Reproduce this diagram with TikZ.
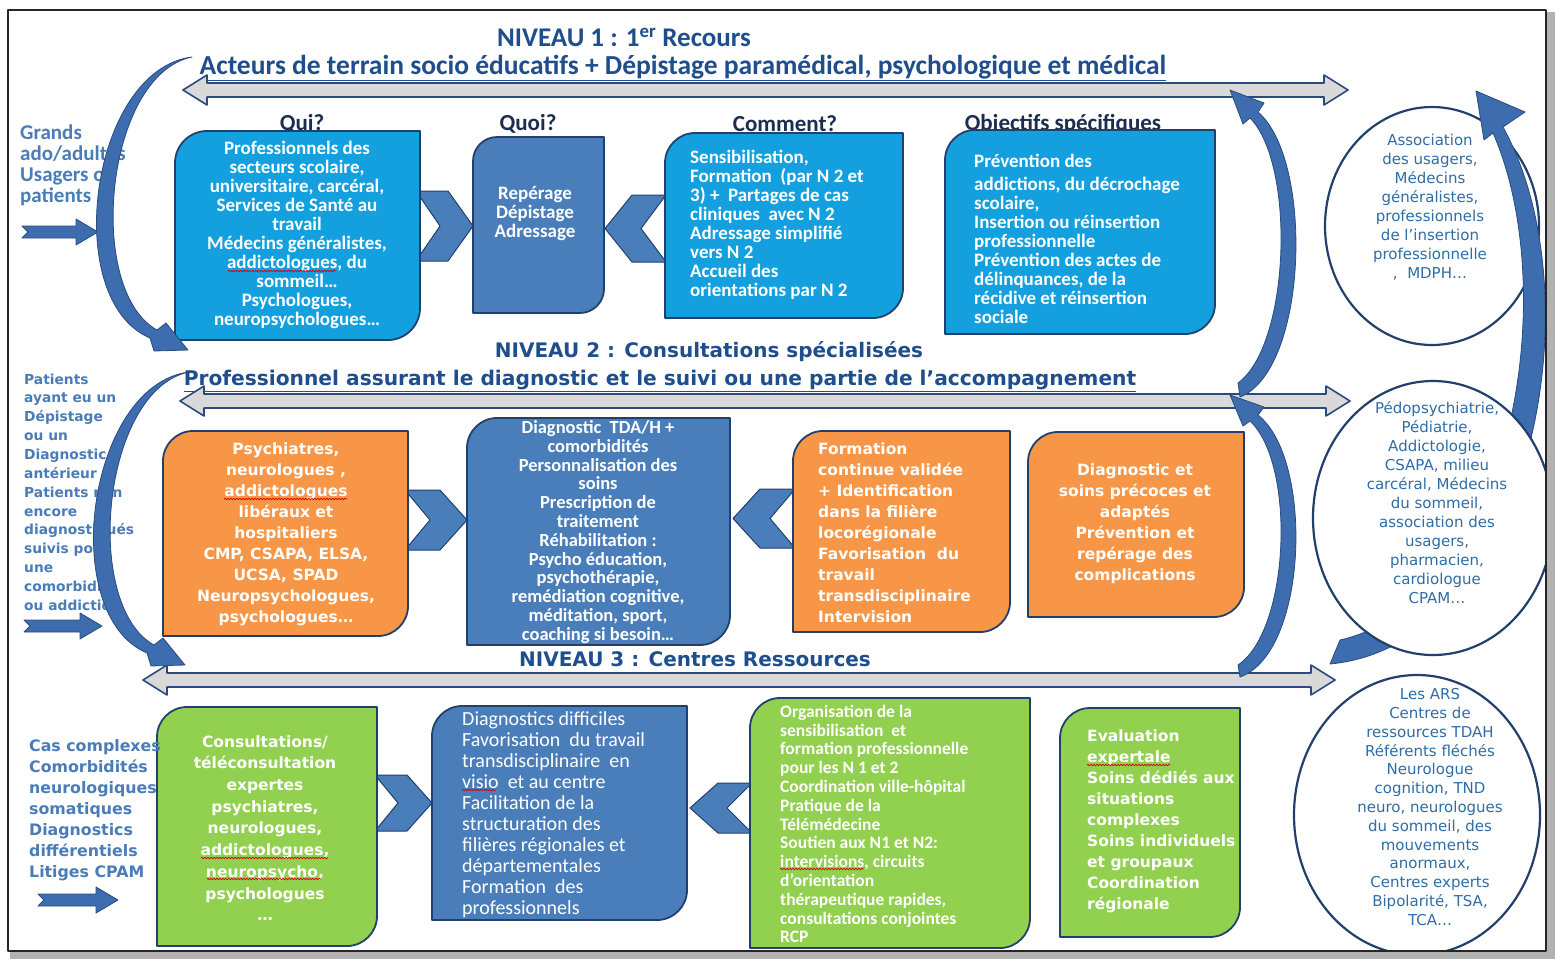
\documentclass[tikz,border=0pt]{standalone}
\usepackage{fontspec}
\setmainfont{Carlito}
\newfontfamily\vfont{DejaVu Sans}
\usetikzlibrary{decorations.pathmorphing}
\definecolor{bbright}{HTML}{14A0DE}
\definecolor{bmid}{HTML}{4A7EBB}
\definecolor{orng}{HTML}{F79646}
\definecolor{grn}{HTML}{92D050}
\definecolor{bline}{HTML}{23406C}
\definecolor{hdr}{HTML}{1F4E8C}
\definecolor{navy}{HTML}{1B2E50}
\definecolor{steel}{HTML}{4A7DB8}
\definecolor{ctext}{HTML}{2F6DA6}
\definecolor{arrfill}{HTML}{3D6DAE}
\definecolor{arrline}{HTML}{2A4B80}
\definecolor{gfill}{HTML}{D9D9D9}
% box with rounded top-left and bottom-right corners: style, x1,y1,x2,y2,r
\newcommand{\dshape}[6]{\draw[#1] (#2,#5) -- (#2,{#3+#6}) .. controls (#2,{#3+0.45*#6}) and ({#2+0.45*#6},#3) .. ({#2+#6},#3) -- (#4,#3) -- (#4,{#5-#6}) .. controls (#4,{#5-0.45*#6}) and ({#4-0.45*#6},#5) .. ({#4-#6},#5) -- cycle;}
% grey double arrow: xl, xr, yc
\newcommand{\dblarrow}[3]{\draw[garrow] (#1,#3) -- ({#1+24},{#3-15}) -- ({#1+24},{#3-7}) -- ({#2-24},{#3-7}) -- ({#2-24},{#3-15}) -- (#2,#3) -- ({#2-24},{#3+15}) -- ({#2-24},{#3+7}) -- ({#1+24},{#3+7}) -- ({#1+24},{#3+15}) -- cycle;}
% small notched block arrow: x1, x2, yc
\newcommand{\blkarrow}[3]{\draw[carrow] (#1,{#3-6}) -- ({#2-22},{#3-6}) -- ({#2-22},{#3-13}) -- (#2,#3) -- ({#2-22},{#3+13}) -- ({#2-22},{#3+6}) -- (#1,{#3+6}) -- ({#1+6},#3) -- cycle;}
\tikzset{
  boxln/.style={draw=bline, line width=1.8pt},
  wt/.style={text=white, inner sep=0pt},
  calb/.style={font=\fontsize{19}{19}\selectfont\bfseries},
  verb/.style={font=\vfont\fontsize{15.5}{21}\selectfont\bfseries},
  circtxt/.style={text=ctext, inner sep=0pt, align=center, font=\vfont\fontsize{15}{19}\selectfont},
  colhead/.style={text=navy, font=\fontsize{23}{23}\selectfont\bfseries, inner sep=0pt},
  lefttxt/.style={text=steel, inner sep=0pt, align=left, anchor=west},
  garrow/.style={fill=gfill, draw=arrline, line width=1.6pt},
  carrow/.style={fill=arrfill, draw=arrline, line width=0.8pt},
  chev/.style={fill=bmid, draw=bline, line width=1pt},
  circln/.style={draw=bline, line width=2.2pt, fill=white},
  spell/.style={draw=red!85!black, line width=0.7pt, decorate, decoration={snake, amplitude=0.8pt, segment length=3pt}}
}
\begin{document}
\begin{tikzpicture}[x=1pt,y=-1pt,line join=round]
\useasboundingbox (0,0) rectangle (1555,959);
\fill[white] (0,0) rectangle (1555,959);

% ---------------- headers
\node[text=hdr, font=\fontsize{27}{27}\selectfont\bfseries, inner sep=0pt] (n1) at (624,37) {NIVEAU 1 : 1\textsuperscript{er} Recours};
\node[text=hdr, font=\fontsize{27.5}{27.5}\selectfont\bfseries, inner sep=0pt] (n1b) at (683,68) {\underline{Acteurs de terrain socio éducatifs + Dépistage paramédical, psychologique et médical}};
\node[text=hdr, font=\vfont\fontsize{20}{20}\selectfont\bfseries, inner sep=0pt] (n2) at (709,352) {NIVEAU 2 : Consultations spécialisées};
\node[text=hdr, font=\vfont\fontsize{20.2}{20}\selectfont\bfseries, inner sep=0pt] (n2b) at (660,381) {\underline{Professionnel assurant le diagnostic et le suivi ou une partie de l’accompagnement}};
\node[text=hdr, font=\vfont\fontsize{20}{20}\selectfont\bfseries, inner sep=0pt] (n3) at (695,659) {NIVEAU 3 : Centres Ressources};

% ---------------- grey double arrows
\dblarrow{183}{1348}{90}
\dblarrow{180}{1350}{401}
\dblarrow{143}{1335}{680}

% ---------------- column headings
\node[colhead] (hqui) at (302,124) {Qui?};
\node[colhead] (hquoi) at (528,124) {Quoi?};
\node[colhead] (hcomm) at (785,124) {Comment?};
\node[colhead] (hobj) at (1063,124) {Objectifs spécifiques};

% ---------------- chevrons
\draw[chev] (416,191) -- (448,191) -- (473,226) -- (448,261) -- (416,261) -- (440,226) -- cycle;
\draw[chev] (666,195) -- (632,195) -- (605,228.5) -- (632,262) -- (666,262) -- (641,228.5) -- cycle;
\draw[chev] (405,490) -- (440,490) -- (467,520) -- (440,550) -- (405,550) -- (430,520) -- cycle;
\draw[chev] (795,489) -- (760,489) -- (733,518.5) -- (760,548) -- (795,548) -- (770,518.5) -- cycle;
\draw[chev] (375,775) -- (407,775) -- (432,803) -- (407,831) -- (375,831) -- (398,803) -- cycle;
\draw[chev] (752,783) -- (718,783) -- (690,808) -- (718,833) -- (752,833) -- (727,808) -- cycle;

% ---------------- level 1 boxes
\dshape{boxln, fill=bbright}{175}{131}{420}{340}{32}
\dshape{boxln, fill=bmid}{473}{137}{604}{313}{24}
\dshape{boxln, fill=bbright}{665}{133}{903}{318}{30}
\dshape{boxln, fill=bbright}{945}{130}{1215}{334}{30}

\node[wt, calb, align=center] (qui) at (297,235) {Professionnels des\\secteurs scolaire,\\universitaire, carcéral,\\Services de Santé au\\travail\\Médecins généralistes,\\addictologues, du\\sommeil…\\Psychologues,\\neuropsychologues…};
\node[wt, calb, align=center] (quoi) at (535,214) {Repérage\\Dépistage\\Adressage};
\node[wt, calb, align=left, anchor=west] (comment) at (690,225) {Sensibilisation,\\Formation~ (par N 2 et\\3) + ~Partages de cas\\cliniques ~avec N 2\\Adressage simplifié\\vers N 2\\Accueil des\\orientations par N 2};
\node[wt, calb, align=left, anchor=west] (objectifs) at (974,239) {Prévention des\\[4pt]addictions, du décrochage\\scolaire,\\Insertion ou réinsertion\\professionnelle\\Prévention des actes de\\délinquances, de la\\récidive et réinsertion\\sociale};

% ---------------- level 2 boxes
\dshape{boxln, fill=orng}{163}{431}{408}{636}{30}
\dshape{boxln, fill=bmid}{467}{418}{730}{645}{30}
\dshape{boxln, fill=orng}{793}{431}{1010}{632}{30}
\dshape{boxln, fill=orng}{1028}{432}{1244}{617}{30}

\node[wt, verb, align=center] (psy) at (286,534) {Psychiatres,\\neurologues ,\\addictologues\\libéraux et\\hospitaliers\\CMP, CSAPA, ELSA,\\UCSA, SPAD\\Neuropsychologues,\\psychologues…};
\node[wt, font=\fontsize{18.5}{18.8}\selectfont\bfseries, align=center] (diag) at (598,532) {Diagnostic~ TDA/H +\\comorbidités\\Personnalisation des\\soins\\Prescription de\\traitement\\Réhabilitation :\\Psycho éducation,\\psychothérapie,\\remédiation cognitive,\\méditation, sport,\\coaching si besoin…};
\node[wt, verb, align=left, anchor=west] (form) at (818,533) {Formation\\continue validée\\+ Identification\\dans la filière\\locorégionale\\Favorisation~ du\\travail\\transdisciplinaire\\Intervision};
\node[wt, verb, align=center] (prec) at (1135,524) {Diagnostic et\\soins précoces et\\adaptés\\Prévention et\\repérage des\\complications};

% ---------------- level 3 boxes
\dshape{boxln, fill=grn}{157}{707}{377}{946}{30}
\dshape{boxln, fill=bmid}{432}{706}{687}{920}{30}
\dshape{boxln, fill=grn}{750}{698}{1030}{948}{30}
\dshape{boxln, fill=grn}{1060}{708}{1240}{937}{30}

\node[wt, font=\vfont\fontsize{15.5}{21.7}\selectfont\bfseries, align=center] (consult) at (265,828) {Consultations/\\téléconsultation\\expertes\\psychiatres,\\neurologues,\\addictologues,\\neuropsycho,\\psychologues\\…};
\node[wt, font=\fontsize{20}{21}\selectfont, align=left, anchor=west] (diffic) at (462,815) {Diagnostics difficiles\\Favorisation~ du travail\\transdisciplinaire~ en\\visio~ et au centre\\Facilitation de la\\structuration des\\filières régionales et\\départementales\\Formation~ des\\professionnels};
\node[wt, font=\fontsize{17.5}{18.8}\selectfont\bfseries, align=left, anchor=west] (orga) at (780,824) {Organisation de la\\sensibilisation~ et\\formation professionnelle\\pour les N 1 et 2\\Coordination ville-hôpital\\Pratique de la\\Télémédecine\\Soutien aux N1 et N2:\\intervisions, circuits\\d’orientation\\thérapeutique rapides,\\consultations conjointes\\RCP};
\node[wt, verb, align=left, anchor=west] (eval) at (1087,821) {Evaluation\\expertale\\Soins dédiés aux\\situations\\complexes\\Soins individuels\\et groupaux\\Coordination\\régionale};

% ---------------- spelling marks
\draw[spell] (228,271) -- (336,271);
\draw[spell] (224,499) -- (347,499);
\draw[spell] (201,858) -- (328,858);
\draw[spell] (207,879) -- (321,879);
\draw[spell] (462,790) -- (496,790);
\draw[spell] (780,869) -- (864,869);
\draw[spell] (1087,765) -- (1170,765);

% ---------------- left texts
\node[lefttxt, font=\fontsize{21}{21}\selectfont\bfseries] (lt1) at (20,165) {Grands\\ado/adultes\\Usagers ou\\patients};
\node[lefttxt, font=\vfont\fontsize{13.8}{18.85}\selectfont\bfseries] (lt2) at (24,492) {Patients\\ayant eu un\\Dépistage\\ou un\\Diagnostic\\antérieur\\Patients non\\encore\\diagnostiqués\\suivis pour\\une\\comorbidité\\ou addiction};
\node[lefttxt, font=\vfont\fontsize{15.8}{20.9}\selectfont\bfseries] (lt3) at (29,810) {Cas complexes\\Comorbidités\\neurologiques\\somatiques\\Diagnostics\\différentiels\\Litiges CPAM};

\blkarrow{22}{98}{232}
\blkarrow{24}{102}{626}
\blkarrow{38}{118}{900}

% ---------------- curved arrows (left)
\draw[carrow] (192,57) .. controls (90,70) and (60,300) .. (150,338) -- (154,351) -- (188,350) -- (166,323) -- (157,330) .. controls (85,290) and (105,75) .. (192,57) -- cycle;
\begin{scope}[shift={(-3,315)}]
\draw[carrow] (192,57) .. controls (90,70) and (60,300) .. (150,338) -- (154,351) -- (188,350) -- (166,323) -- (157,330) .. controls (85,290) and (105,75) .. (192,57) -- cycle;
\end{scope}

% ---------------- curved arrows (right)
\draw[carrow] (1240,397) .. controls (1308,370) and (1314,160) .. (1258,112) -- (1264,103) -- (1230,90) -- (1243,124) -- (1250,118) .. controls (1296,165) and (1290,345) .. (1238,383) -- cycle;
\draw[carrow] (1240,677) .. controls (1308,653) and (1314,459) .. (1258,415) -- (1264,407) -- (1230,395) -- (1243,426) -- (1250,421) .. controls (1296,464) and (1290,630) .. (1238,665) -- cycle;

% ---------------- circles and big arrow
\draw[circln] (1432,226) ellipse [x radius=107pt, y radius=119pt];
\draw[carrow] (1330,664) .. controls (1530,645) and (1598,300) .. (1503,127) -- (1525,112) -- (1476,91) -- (1484,140) -- (1493,133) .. controls (1562,290) and (1515,600) .. (1340,640) -- cycle;
\draw[circln] (1433,518) ellipse [x radius=120pt, y radius=137pt];
\draw[circln] (1417,815) ellipse [x radius=123pt, y radius=140pt];

\node[circtxt] (c1) at (1430,207) {Association\\des usagers,\\Médecins\\généralistes,\\professionnels\\de l’insertion\\professionnelle\\, ~MDPH…};
\node[circtxt] (c2) at (1437,503) {Pédopsychiatrie,\\Pédiatrie,\\Addictologie,\\CSAPA, milieu\\carcéral, Médecins\\du sommeil,\\association des\\usagers,\\pharmacien,\\cardiologue\\CPAM…};
\node[circtxt, font=\vfont\fontsize{15}{18.8}\selectfont] (c3) at (1430,807) {Les ARS\\Centres de\\ressources TDAH\\Référents fléchés\\Neurologue\\cognition, TND\\neuro, neurologues\\du sommeil, des\\mouvements\\anormaux,\\Centres experts\\Bipolarité, TSA,\\TCA…};

% ---------------- frame
\fill[black!30] (1546,12) rectangle (1555,959);
\fill[black!30] (10,951) rectangle (1555,959);
\draw[black!85, line width=1.4pt] (8,10) rectangle (1546,951);
\end{tikzpicture}
\end{document}
